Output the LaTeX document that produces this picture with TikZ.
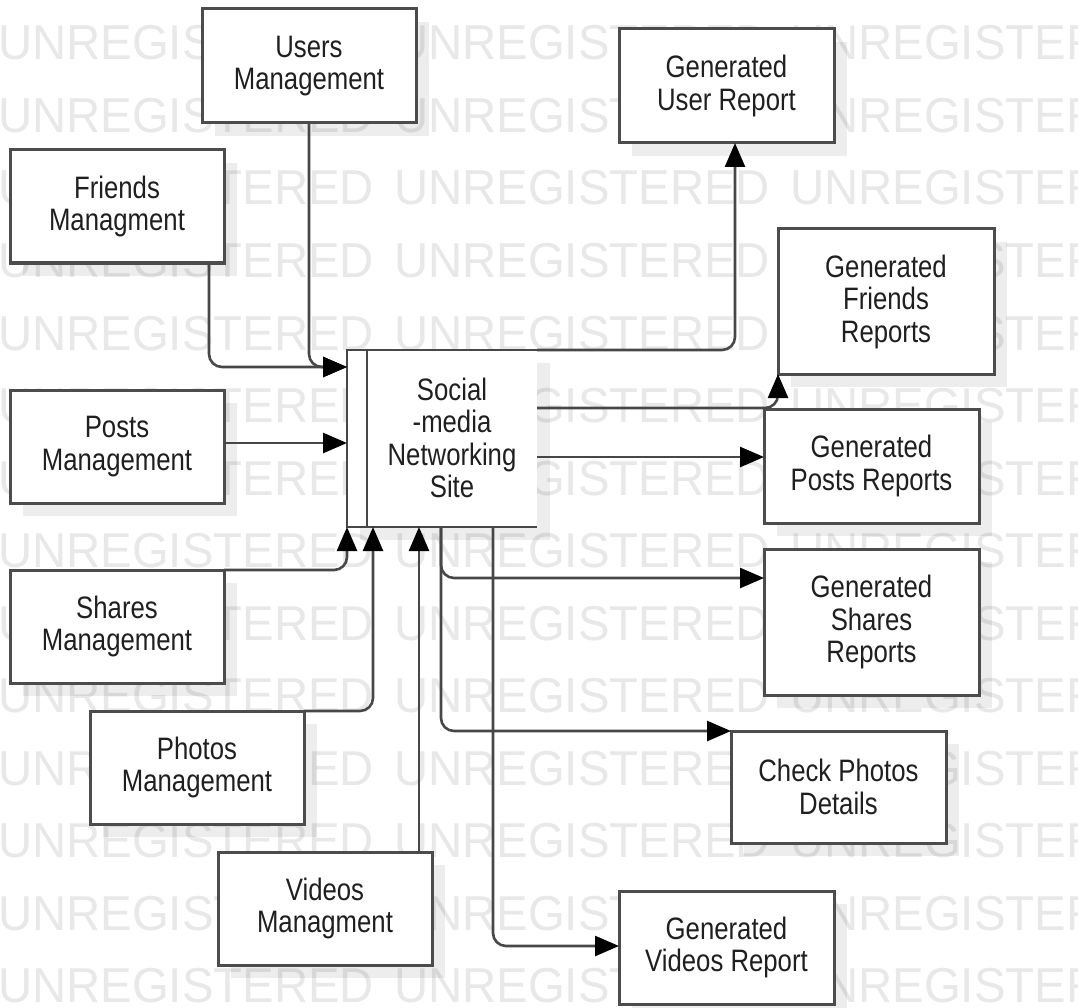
\documentclass[tikz,border=0pt]{standalone}
\usepackage{fontspec}
\setmainfont{Liberation Sans}[FakeStretch=0.83]
\newfontfamily\wmfont{Liberation Sans}[FakeStretch=0.965]
\usetikzlibrary{arrows.meta,shadows}
\newcommand\dfdfont{\fontsize{31}{32.5}\selectfont}
\begin{document}
\begin{tikzpicture}[x=1pt,y=-1pt,
  box/.style={draw=black!70, line width=3pt, fill=white, inner sep=0pt, outer sep=0pt,
    align=center, font=\dfdfont, text=black!88,
    drop shadow={shadow xshift=13pt, shadow yshift=-13pt, opacity=0.07, fill=black}},
  conn/.style={draw=black!72, line width=2.6pt, rounded corners=13pt},
  arr/.style={conn, -{Triangle[length=24pt,width=20pt,color=black,fill=black]}},
  wm/.style={font=\wmfont\fontsize{49}{49}\selectfont, text=black!9, inner sep=0pt, anchor=base west}
]
\useasboundingbox (0,0) rectangle (1078,1008);
\fill[white] (0,0) rectangle (1078,1008);
\clip (0,0) rectangle (1078,1008);
% watermark
\foreach \k in {0,...,13}{
  \foreach \j/\xx in {0/-2,1/394,2/790}{
    \node[wm, name=wm-\k-\j] at (\xx, 60+72.5*\k) {UNREGISTERED};
  }
}
% helper coordinates
\coordinate (jfu) at (347,367);
\coordinate (fx) at (209,0);
\coordinate (py) at (0,443);
\coordinate (phx) at (373,0);
\coordinate (vx) at (419,0);
\coordinate (ux) at (735,0);
\coordinate (fry) at (0,408);
\coordinate (pry) at (0,457);
\coordinate (ox1) at (441,0);
\coordinate (sry) at (0,578);
\coordinate (ox2) at (493,0);
\coordinate (vry) at (0,946);
\coordinate (inx) at (367,0);
% boxes
\node[box, minimum width=214pt, minimum height=114pt] (users) at (309,66) {Users\\Management};
\node[box, minimum width=214pt, minimum height=113pt] (friends) at (117,206.5) {Friends\\Managment};
\node[box, minimum width=214pt, minimum height=113pt] (posts) at (117,446.5) {Posts\\Management};
\node[box, minimum width=214pt, minimum height=113pt] (shares) at (117,626.5) {Shares\\Management};
\node[box, minimum width=214pt, minimum height=113pt] (photos) at (197,767.5) {Photos\\Management};
\node[box, minimum width=214pt, minimum height=113pt] (videos) at (325,908.5) {Videos\\Managment};
\node[box, minimum width=215pt, minimum height=114pt] (userrep) at (726.5,86) {Generated\\User Report};
\node[box, minimum width=216pt, minimum height=145pt] (friendsrep) at (886,301.5) {Generated\\Friends\\Reports};
\node[box, minimum width=215pt, minimum height=114pt] (postsrep) at (871.5,466) {Generated\\Posts Reports};
\node[box, minimum width=215pt, minimum height=146pt] (sharesrep) at (871.5,622) {Generated\\Shares\\Reports};
\node[box, minimum width=215pt, minimum height=112pt] (checkphotos) at (838.5,787) {Check Photos\\Details};
\node[box, minimum width=215pt, minimum height=113pt] (videorep) at (726.5,947.5) {Generated\\Videos Report};
% central process
\node[box, draw=none, minimum width=190pt, minimum height=177pt] (site) at (442,438.5) {};
\node[font=\dfdfont, text=black!88, align=center, inner sep=0pt] (sitelabel) at (452,438) {Social\\-media\\Networking\\Site};
\draw[conn, rounded corners=0pt] (site.north east) -- (site.north west) -- (site.south west) -- (site.south east);
\draw[conn] (site.north west -| inx) -- (site.south west -| inx);
% incoming
\draw[arr] (users.south) |- (site.west |- jfu);
\draw[arr] (friends.south -| fx) |- (site.west |- jfu);
\draw[arr] (posts.east |- py) -- (site.west |- py);
\draw[arr] (shares.north east) -| (site.south west);
\draw[arr] (photos.north east) -| (phx |- site.south);
\draw[arr] (vx |- videos.north) -- (vx |- site.south);
% outgoing
\draw[arr] (site.north east) -| (ux |- userrep.south);
\draw[arr] (site.east |- fry) -| (friendsrep.south west);
\draw[arr] (site.east |- pry) -- (postsrep.west |- pry);
\draw[arr] (ox1 |- site.south) |- (sharesrep.west |- sry);
\draw[arr] (ox1 |- site.south) |- (checkphotos.north west);
\draw[arr] (ox2 |- site.south) |- (videorep.west |- vry);
\end{tikzpicture}
\end{document}
